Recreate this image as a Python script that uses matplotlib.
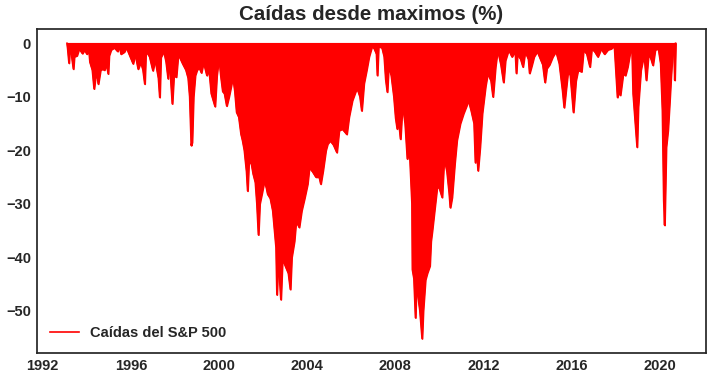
import matplotlib
matplotlib.use("Agg")
import matplotlib.pyplot as plt

# Drawdown envelope of the S&P 500 (decimal year, % below previous max)
years = [
    1993.10, 1993.13, 1993.19, 1993.22, 1993.30, 1993.39, 1993.43, 1993.55, 1993.65, 1993.80,
    1993.90, 1994.00, 1994.10, 1994.14, 1994.25, 1994.33, 1994.40, 1994.48, 1994.52, 1994.62,
    1994.72, 1994.80, 1994.90, 1994.97, 1995.01, 1995.10, 1995.25, 1995.40, 1995.50, 1995.55,
    1995.70, 1995.80, 1995.95, 1996.10, 1996.20, 1996.33, 1996.45, 1996.55, 1996.63, 1996.68,
    1996.85, 1997.00, 1997.10, 1997.25, 1997.31, 1997.36, 1997.50, 1997.60, 1997.69, 1997.75,
    1997.88, 1997.95, 1998.06, 1998.15, 1998.35, 1998.50, 1998.60, 1998.67, 1998.74, 1998.78,
    1998.84, 1998.92, 1999.00, 1999.10, 1999.20, 1999.30, 1999.45, 1999.55, 1999.65, 1999.82,
    1999.90, 2000.00, 2000.08, 2000.17, 2000.25, 2000.35, 2000.45, 2000.55, 2000.63, 2000.72,
    2000.80, 2000.90, 2001.00, 2001.07, 2001.15, 2001.25, 2001.30, 2001.35, 2001.45, 2001.55,
    2001.65, 2001.72, 2001.79, 2001.85, 2001.95, 2002.06, 2002.15, 2002.21, 2002.33, 2002.44,
    2002.52, 2002.59, 2002.63, 2002.68, 2002.75, 2002.81, 2002.88, 2002.95, 2003.05, 2003.15,
    2003.24, 2003.30, 2003.42, 2003.50, 2003.64, 2003.75, 2003.88, 2004.02, 2004.10, 2004.25,
    2004.40, 2004.55, 2004.62, 2004.72, 2004.85, 2004.93, 2005.05, 2005.20, 2005.35, 2005.45,
    2005.60, 2005.80, 2005.90, 2006.05, 2006.20, 2006.28, 2006.40, 2006.48, 2006.58, 2006.70,
    2006.81, 2006.95, 2007.05, 2007.15, 2007.19, 2007.24, 2007.40, 2007.50, 2007.57, 2007.64,
    2007.70, 2007.82, 2007.94, 2008.02, 2008.09, 2008.17, 2008.24, 2008.33, 2008.45, 2008.55,
    2008.65, 2008.70, 2008.76, 2008.78, 2008.85, 2008.92, 2008.96, 2009.02, 2009.12, 2009.22,
    2009.27, 2009.37, 2009.45, 2009.57, 2009.62, 2009.68, 2009.78, 2009.90, 2010.00, 2010.13,
    2010.22, 2010.35, 2010.45, 2010.50, 2010.58, 2010.70, 2010.80, 2010.95, 2011.10, 2011.33,
    2011.45, 2011.58, 2011.64, 2011.70, 2011.76, 2011.85, 2011.95, 2012.10, 2012.20, 2012.35,
    2012.44, 2012.55, 2012.65, 2012.80, 2012.92, 2013.00, 2013.15, 2013.30, 2013.45, 2013.50,
    2013.55, 2013.70, 2013.80, 2013.90, 2014.05, 2014.10, 2014.20, 2014.30, 2014.45, 2014.60,
    2014.70, 2014.80, 2014.88, 2015.00, 2015.15, 2015.30, 2015.45, 2015.60, 2015.67, 2015.75,
    2015.85, 2015.95, 2016.09, 2016.20, 2016.30, 2016.46, 2016.55, 2016.70, 2016.84, 2016.92,
    2017.05, 2017.20, 2017.35, 2017.50, 2017.65, 2017.80, 2017.95, 2018.09, 2018.15, 2018.22,
    2018.35, 2018.45, 2018.55, 2018.65, 2018.75, 2018.80, 2018.90, 2018.98, 2019.03, 2019.15,
    2019.30, 2019.40, 2019.50, 2019.62, 2019.70, 2019.80, 2019.95, 2020.05, 2020.13, 2020.19,
    2020.23, 2020.30, 2020.38, 2020.46, 2020.52, 2020.58, 2020.65, 2020.69, 2020.73,
]
drawdown = [
    0.0, -1.0, -3.7, -1.5, -2.0, -4.8, -2.5, -2.3, -1.0, -1.9,
    -1.2, -2.0, -1.5, -3.5, -5.0, -8.5, -6.0, -6.5, -7.6, -5.0,
    -4.8, -5.0, -4.0, -5.7, -2.3, -1.2, -0.8, -1.5, -0.6, -2.0,
    -1.6, -0.8, -2.3, -3.8, -2.0, -4.8, -3.5, -5.0, -7.6, -1.4,
    -2.5, -5.1, -3.0, -6.5, -10.1, -2.6, -1.5, -3.5, -6.6, -3.0,
    -11.3, -6.0, -6.3, -2.0, -3.8, -5.0, -6.5, -10.0, -19.1, -18.5,
    -10.0, -6.0, -5.0, -4.5, -5.5, -3.5, -6.0, -5.0, -9.4, -11.8,
    -6.0, -2.6, -6.0, -9.0, -9.4, -11.7, -10.0, -8.0, -6.2, -9.0,
    -12.9, -13.8, -17.0, -18.2, -20.0, -24.0, -27.6, -22.6, -22.0, -24.4,
    -26.0, -30.0, -35.8, -30.0, -28.0, -25.7, -27.0, -28.2, -29.0, -31.3,
    -35.0, -38.2, -47.0, -41.3, -44.0, -47.9, -40.5, -41.0, -42.0, -43.0,
    -46.0, -40.0, -37.0, -33.2, -34.4, -31.3, -29.0, -26.3, -23.2, -24.0,
    -25.0, -25.0, -26.3, -23.8, -20.0, -18.8, -18.2, -19.0, -20.4, -16.3,
    -16.0, -17.0, -13.8, -10.7, -9.0, -8.5, -10.0, -12.6, -7.5, -5.0,
    -2.5, -0.5, -1.0, -2.0, -6.0, -0.6, -0.8, -2.5, -6.8, -9.1,
    -4.3, -6.0, -10.0, -14.0, -16.0, -15.0, -17.9, -11.3, -15.0, -21.6,
    -20.0, -24.4, -30.0, -42.3, -44.0, -51.3, -45.0, -46.9, -50.0, -55.2,
    -50.0, -44.2, -43.0, -41.6, -37.0, -35.0, -31.3, -26.9, -27.0, -28.8,
    -21.3, -24.0, -28.0, -30.7, -28.8, -22.5, -18.1, -15.0, -13.1, -10.7,
    -12.6, -15.0, -22.3, -20.0, -23.8, -19.4, -13.1, -8.0, -5.6, -7.0,
    -10.0, -4.4, -1.2, -4.0, -7.3, -3.2, -1.2, -2.5, -1.5, -5.6,
    -2.0, -3.0, -4.4, -1.5, -3.0, -5.6, -4.1, -2.5, -1.5, -3.0,
    -4.0, -7.3, -4.7, -4.0, -2.5, -1.5, -3.8, -9.0, -12.0, -8.8,
    -5.0, -6.0, -12.9, -7.0, -5.0, -5.3, -1.2, -2.0, -4.4, -1.0,
    -1.5, -2.5, -1.0, -2.0, -1.2, -1.0, -0.5, -10.1, -9.0, -9.7,
    -5.6, -6.0, -4.4, -2.0, -1.0, -9.4, -15.0, -19.4, -11.9, -5.0,
    -2.0, -6.9, -1.9, -3.0, -4.1, -1.2, -1.0, -3.8, -12.6, -29.4,
    -34.0, -19.4, -16.3, -10.7, -6.2, -2.2, -1.0, -6.9, 0.0,
]
x_ticks = [1992, 1996, 2000, 2004, 2008, 2012, 2016, 2020]
y_ticks = [0, -10, -20, -30, -40, -50]

title = "Caídas desde maximos (%)"
label = "Caídas del S&P 500"

plt.rcParams['font.family'] = ['Liberation Sans', 'DejaVu Sans']
dark = '#262626'

fig = plt.figure(figsize=(7.12, 3.79), dpi=100)
ax = fig.add_axes([0.0513, 0.0678, 0.9403, 0.857])

ax.fill_between(years, drawdown, 0, color='red', linewidth=1.2)
ax.plot(years, drawdown, color='red', linewidth=1.2, label=label)

ax.margins(x=0.05, y=0.05)
ax.set_xticks(x_ticks)
ax.set_xticklabels([str(t) for t in x_ticks])
ax.set_yticks(y_ticks)
ax.set_yticklabels(['0', '−10', '−20', '−30', '−40', '−50'])
ax.tick_params(length=0, labelsize=10.5, colors=dark, pad=4)
for lab in ax.get_xticklabels() + ax.get_yticklabels():
    lab.set_fontweight('bold')
for s in ax.spines.values():
    s.set_color(dark)
    s.set_linewidth(1.25)

ax.set_title(title, fontsize=14.8, fontweight='bold', color=dark, pad=6)
leg = ax.legend(loc='lower left', frameon=False,
                prop={'weight': 'bold', 'size': 10.5}, handlelength=2.0)
for t in leg.get_texts():
    t.set_color(dark)

fig.savefig('out.png', dpi=100)
